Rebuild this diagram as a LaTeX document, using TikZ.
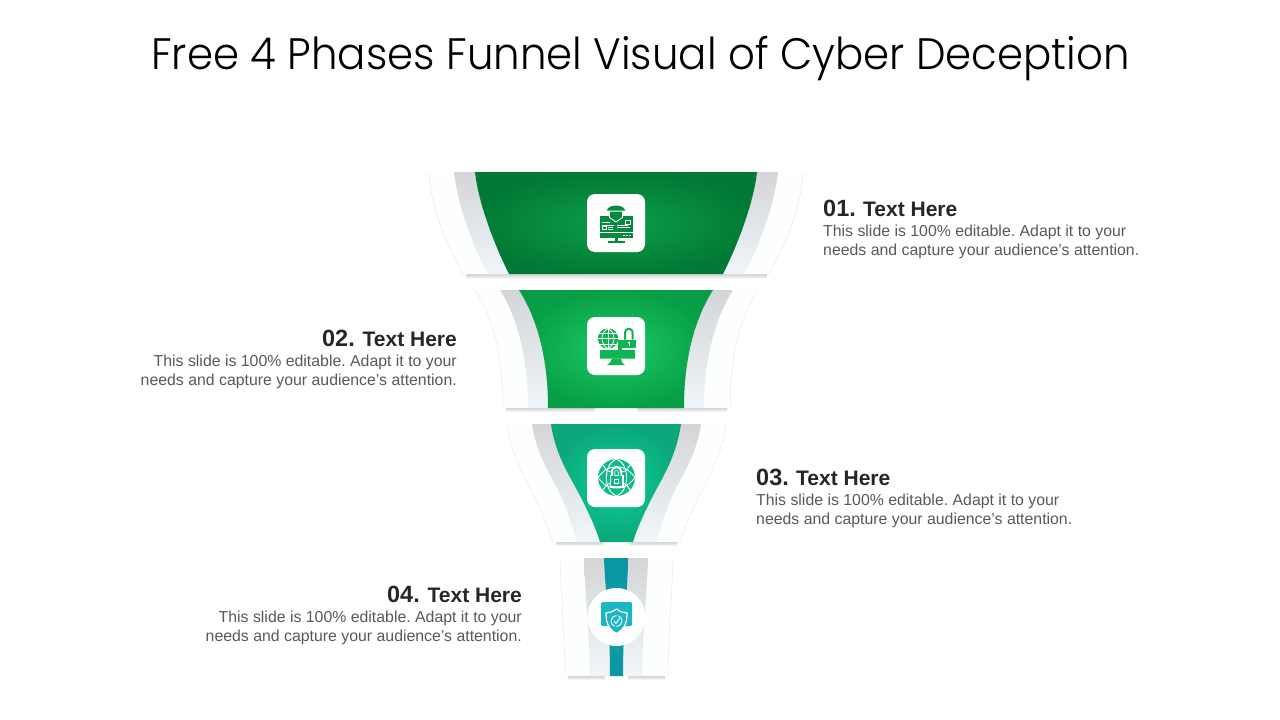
\documentclass[tikz,border=0pt]{standalone}
\usepackage{fontspec}
\setmainfont{Liberation Sans}
\newfontfamily\titlefont{Poppins Light}
\definecolor{titlec}{HTML}{000000}
\definecolor{headc}{HTML}{262626}
\definecolor{bodyc}{HTML}{595959}
\definecolor{outerc}{HTML}{FDFEFE}
\definecolor{edgec}{HTML}{EFF0F2}
\definecolor{grayt}{HTML}{D4D5D7}
\definecolor{grayb}{HTML}{F0F6FA}
\definecolor{shadowc}{HTML}{CFD0D2}
\definecolor{greena}{HTML}{0B9E4B}\definecolor{greenb}{HTML}{027A35}
\definecolor{greenc}{HTML}{1ACB65}\definecolor{greend}{HTML}{089E45}
\definecolor{greene}{HTML}{10CC96}\definecolor{greenf}{HTML}{0BA77A}
\definecolor{teala}{HTML}{0F9FAC}\definecolor{tealb}{HTML}{0B96A3}
\definecolor{icona}{HTML}{048A3F}\definecolor{iconb}{HTML}{0DB552}
\definecolor{iconc}{HTML}{12B98A}\definecolor{icond}{HTML}{1CB6C4}
\tikzset{
  graypart/.style={top color=grayt,bottom color=grayb},
  shadowbar/.style={top color=shadowc,bottom color=white},
  tile/.style={fill=white,rounded corners=8pt},
  wl/.style={draw=white,line width=.9pt},
  titletext/.style={font=\titlefont\fontsize{44}{50}\selectfont,text=titlec,anchor=base,inner sep=0pt},
  numtext/.style={font=\bfseries\fontsize{23.5}{26}\selectfont,text=headc,inner sep=0pt},
  headtext/.style={font=\bfseries\fontsize{21}{24}\selectfont,text=headc,inner sep=0pt},
  bodytext/.style={font=\fontsize{15.85}{19}\selectfont\frenchspacing,text=bodyc,inner sep=0pt},
}
\newcommand{\blockL}[4]{%
  \node[headtext,anchor=base west] (#1h) at (#2+40,#3) {Text Here};
  \node[numtext,anchor=base west] (#1n) at (#2,#3) {#4};
  \node[bodytext,anchor=base west] (#1a) at (#2,#3+20.5) {This slide is 100\% editable. Adapt it to your};
  \node[bodytext,anchor=base west] (#1b) at (#2,#3+39.5) {needs and capture your audience’s attention.};
}
\newcommand{\blockR}[4]{%
  \node[headtext,anchor=base east] (#1h) at (#2,#3) {Text Here};
  \node[numtext,anchor=base east] (#1n) at (#2-102,#3) {#4};
  \node[bodytext,anchor=base east] (#1a) at (#2,#3+20.5) {This slide is 100\% editable. Adapt it to your};
  \node[bodytext,anchor=base east] (#1b) at (#2,#3+39.5) {needs and capture your audience’s attention.};
}
\begin{document}
\begin{tikzpicture}[x=1pt,y=-1pt]
\useasboundingbox (0,0) rectangle (1280,720);
\fill[white] (0,0) rectangle (1280,720);
\node[titletext] (t) at (640.5,69) {\scalebox{.952}[1]{Free 4 Phases Funnel Visual of Cyber Deception}};

% ---- phase 1
\shade[shadowbar] (466,274) rectangle (767,279);
\path[fill=outerc] (429,172) .. controls (431,210) and (447,245) .. (463,274) -- (769,274) .. controls (785,245) and (801,210) .. (803,172) -- cycle;
\draw[edgec,line width=.8pt] (429,172) .. controls (431,210) and (447,245) .. (463,274) (769,274) .. controls (785,245) and (801,210) .. (803,172);
\shade[graypart] (454,172) .. controls (458,205) and (472,245) .. (488,274) -- (744,274) .. controls (760,245) and (774,205) .. (778,172) -- cycle;
\shade[inner color=greena,outer color=greenb] (475,172) .. controls (478,200) and (492,240) .. (509,274) -- (723,274) .. controls (740,240) and (754,200) .. (757,172) -- cycle;
\fill[tile] (587,194) rectangle (645,252);
% icon 1
\fill[icona] (600,216) rectangle (632.5,238);
\fill[icona] (614.5,238) rectangle (618,241);
\fill[icona] (608,240.5) rectangle (625,242.5);
\draw[wl] (600,232) -- (632.5,232);
\fill[icona] (616,205.5) .. controls (611,205.5) and (607,208) .. (607,210.5) -- (625,210.5) .. controls (625,208) and (621,205.5) .. (616,205.5) -- cycle;
\fill[icona] (610,211.5) -- (622,211.5) -- (622,217) -- (616,221) -- (610,217) -- cycle;
\draw[draw=white,line width=.8pt] (609,213) -- (609.5,217.5) -- (616,222) -- (622.5,217.5) -- (623,213);
\draw[draw=white,line width=.7pt] (602,222.5) -- (610,222.5) (602,225) -- (614,225) (617,225) -- (628,225) (617,227.5) -- (630,227.5) (608,227.5) -- (613,227.5) (608,229.5) -- (613,229.5);
\draw[draw=white,line width=.7pt] (625,220) rectangle (630,224) (602,226.5) rectangle (606,229.5);
\draw[draw=white,line width=.8pt,dash pattern=on 1.5pt off 1.5pt] (623,235) -- (631,235);

% ---- phase 2
\shade[shadowbar] (506,408) rectangle (595,412);
\shade[shadowbar] (637,408) rectangle (727,412);
\path[fill=outerc] (475,290) .. controls (495,322) and (503,360) .. (503,408) -- (730,408) .. controls (730,360) and (738,322) .. (758,290) -- cycle;
\draw[edgec,line width=.8pt] (475,290) .. controls (495,322) and (503,360) .. (503,408) (730,408) .. controls (730,360) and (738,322) .. (758,290);
\shade[graypart] (500,290) .. controls (518,318) and (528,360) .. (528,408) -- (704,408) .. controls (704,360) and (715,318) .. (733,290) -- cycle;
\shade[inner color=greenc,outer color=greend] (519,290) .. controls (538,320) and (548,360) .. (548,408) -- (684,408) .. controls (684,360) and (694,320) .. (713,290) -- cycle;
\fill[tile] (587,317) rectangle (645,375);
% icon 2
\fill[iconb] (618,347) -- (618,340) -- (622,340) -- (622,350) -- (635,350) -- (635,358.5) -- (600,358.5) -- (600,350) -- (618,350) -- cycle;
\fill[iconb] (612,358.5) -- (621,358.5) -- (622,362.5) -- (625,365) -- (607,365) -- (610,362.5) -- cycle;
\fill[iconb] (608,338.5) circle[radius=10.2];
\draw[wl,line width=.8pt] (597.8,338.5) -- (618.2,338.5) (599,333) -- (617,333) (599,344) -- (617,344) (608,328.3) -- (608,348.7);
\draw[wl,line width=.8pt] (608,328.3) .. controls (600,333) and (600,344) .. (608,348.7) (608,328.3) .. controls (616,333) and (616,344) .. (608,348.7);
\fill[iconb] (622,339.5) rectangle (636,347.5);
\draw[iconb,line width=2pt] (625,339.5) -- (625,332.5) arc[start angle=180,end angle=360,radius=3.8] -- (632.6,339.5);
\fill[white] (629,342.5) circle[radius=1.2];
\draw[white,line width=.7pt] (629,342.5) -- (629,345.5);

% ---- phase 3
\shade[shadowbar] (556,542) rectangle (603,546);
\shade[shadowbar] (630,542) rectangle (677,546);
\path[fill=outerc] (507,424) .. controls (511,455) and (525,478) .. (535,498) .. controls (542,513) and (549,530) .. (553,542) -- (680,542) .. controls (684,530) and (691,513) .. (698,498) .. controls (708,478) and (722,455) .. (726,424) -- cycle;
\draw[edgec,line width=.8pt] (507,424) .. controls (511,455) and (525,478) .. (535,498) .. controls (542,513) and (549,530) .. (553,542) (680,542) .. controls (684,530) and (691,513) .. (698,498) .. controls (708,478) and (722,455) .. (726,424);
\shade[graypart] (532,424) .. controls (536,452) and (549,473) .. (558,490) .. controls (566,507) and (573,528) .. (577,542) -- (656,542) .. controls (660,528) and (667,507) .. (675,490) .. controls (684,473) and (697,452) .. (701,424) -- cycle;
\shade[inner color=greene,outer color=greenf] (551,424) .. controls (555,452) and (567,472) .. (577,490) .. controls (587,509) and (596,528) .. (600,542) -- (633,542) .. controls (637,528) and (646,509) .. (656,490) .. controls (666,472) and (677,452) .. (681,424) -- cycle;
\fill[tile] (587,449) rectangle (645,507);
% icon 3
\fill[iconc] (616.5,477.5) circle[radius=18.5];
\begin{scope}[draw=white,line width=.9pt]
\draw (598,477.5) .. controls (604,470) and (608,467) .. (616.5,467) .. controls (625,467) and (629,470) .. (635,477.5) .. controls (629,485) and (625,488) .. (616.5,488) .. controls (608,488) and (604,485) .. (598,477.5) -- cycle;
\draw (616.5,459) .. controls (603,464) and (603,491) .. (616.5,496) .. controls (630,491) and (630,464) .. (616.5,459) -- cycle;
\draw (603,465) .. controls (606,471) and (610,472) .. (612,472) (630,465) .. controls (627,471) and (623,472) .. (621,472);
\draw (603,490) .. controls (606,484) and (610,483) .. (612,483) (630,490) .. controls (627,484) and (623,483) .. (621,483);
\end{scope}
\fill[white] (609.5,475) rectangle (623.5,487.5);
\draw[white,line width=4pt] (613,476) -- (613,471.5) arc[start angle=180,end angle=360,radius=3.5] -- (620,476);
\fill[iconc] (611,476) rectangle (622,486);
\draw[iconc,line width=1.5pt] (613.5,476) -- (613.5,472) arc[start angle=180,end angle=360,radius=3] -- (619.5,476);
\draw[white,line width=.9pt] (614.5,479) rectangle (618.5,483);

% ---- phase 4
\shade[shadowbar] (568,676) rectangle (605,680);
\shade[shadowbar] (628,676) rectangle (665,680);
\path[fill=outerc] (560,558) .. controls (561,600) and (565,640) .. (565,676) -- (668,676) .. controls (668,640) and (672,600) .. (673,558) -- cycle;
\draw[edgec,line width=.8pt] (560,558) .. controls (561,600) and (565,640) .. (565,676) (668,676) .. controls (668,640) and (672,600) .. (673,558);
\shade[graypart] (584,558) .. controls (585,595) and (590,640) .. (590,676) -- (642,676) .. controls (642,640) and (647,595) .. (648,558) -- cycle;
\shade[inner color=teala,outer color=tealb] (604,558) .. controls (605,590) and (610,620) .. (610,676) -- (623,676) .. controls (623,620) and (628,590) .. (628,558) -- cycle;
\fill[white] (616.5,617) circle[radius=29];
% icon 4
\fill[icond,rounded corners=1.5pt] (601,602) rectangle (632,626);
\path[fill=icond,draw=white,line width=1.2pt] (616.5,609) .. controls (612,612) and (609,613) .. (606,613) .. controls (606,622) and (608,629) .. (616.5,633.5) .. controls (625,629) and (627,622) .. (627,613) .. controls (624,613) and (621,612) .. (616.5,609) -- cycle;
\draw[white,line width=.9pt] (616.5,615.5) arc[start angle=270,end angle=110,radius=5.5] (616.5,626.5) arc[start angle=90,end angle=-70,radius=5.5];
\draw[white,line width=.9pt] (614,621) -- (616,623.5) -- (619.5,618.5);

% ---- texts
\blockL{a}{823}{216}{01.}
\blockR{b}{457}{346}{02.}
\blockL{c}{756}{485}{03.}
\blockR{d}{522}{602}{04.}
\end{tikzpicture}
\end{document}
